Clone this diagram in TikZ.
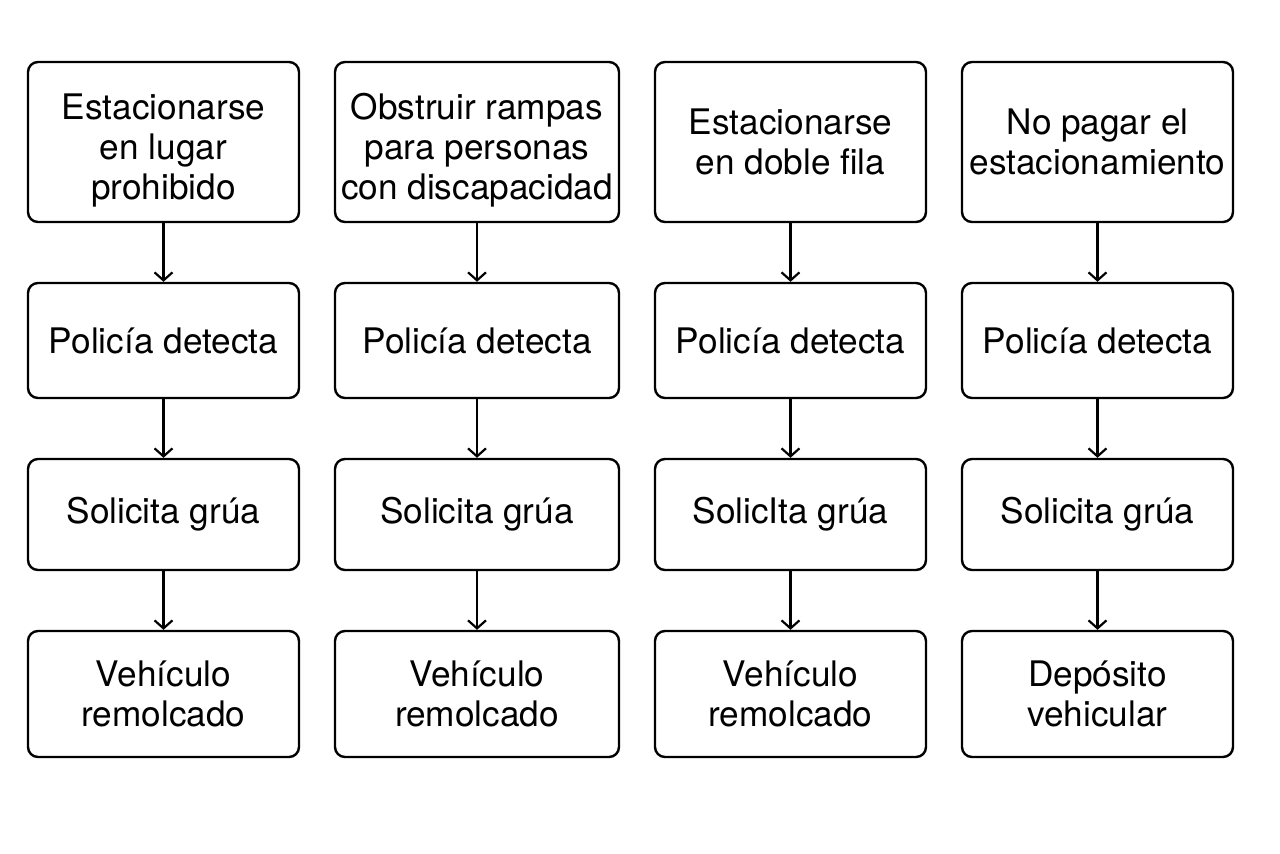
\documentclass[tikz,border=0pt]{standalone}
\usepackage{fontspec}
\setmainfont{TeX Gyre Heros}
\usetikzlibrary{arrows.meta}

\begin{document}
\begin{tikzpicture}[
  x=0.5pt,
  y=-0.5pt,
  thick,
  box/.style={
    draw,
    line width=1.2pt,
    rounded corners=5pt,
    align=center,
    inner sep=0pt,
    minimum width=135.5pt,
    font=\fontsize{17.6}{20}\selectfont
  },
  flow/.style={
    -{Straight Barb[length=4pt,width=9pt]},
    line width=1.1pt
  }
]
  \useasboundingbox (0,0) rectangle (1280,853);
  % row 1: infraccion
  \node[box,minimum height=80pt] (inf1) at (163.5,142)
    {\strut\\[-13pt]Estacionarse\\en lugar\\prohibido};
  \node[box,minimum height=80pt,minimum width=142pt] (inf2) at (477,142)
    {\strut\\[-13pt]Obstruir rampas\\para personas\\con discapacidad};
  \node[box,minimum height=80pt] (inf3) at (790.5,142)
    {Estacionarse\\en doble fila};
  \node[box,minimum height=80pt] (inf4) at (1097.5,142)
    {No pagar el\\estacionamiento};
  % row 2: policia
  \node[box,minimum height=57.5pt] (pol1) at (163.5,340.5) {Policía detecta};
  \node[box,minimum height=57.5pt,minimum width=142pt] (pol2) at (477,340.5) {Policía detecta};
  \node[box,minimum height=57.5pt] (pol3) at (790.5,340.5) {Policía detecta};
  \node[box,minimum height=57.5pt] (pol4) at (1097.5,340.5) {Policía detecta};
  % row 3: grua
  \node[box,minimum height=55.5pt] (gru1) at (163.5,514.5) {Solicita grúa};
  \node[box,minimum height=55.5pt,minimum width=142pt] (gru2) at (477,514.5) {Solicita grúa};
  \node[box,minimum height=55.5pt] (gru3) at (790.5,514.5) {SolicIta grúa};
  \node[box,minimum height=55.5pt] (gru4) at (1097.5,514.5) {Solicita grúa};
  % row 4: resultado
  \node[box,minimum height=63pt] (fin1) at (163.5,694) {Vehículo\\remolcado};
  \node[box,minimum height=63pt,minimum width=142pt] (fin2) at (477,694) {Vehículo\\remolcado};
  \node[box,minimum height=63pt] (fin3) at (790.5,694) {Vehículo\\remolcado};
  \node[box,minimum height=63pt] (fin4) at (1097.5,694) {Depósito\\vehicular};
  % flechas
  \foreach \c in {1,2,3,4} {
    \draw[flow] (inf\c.south) -- (pol\c.north);
    \draw[flow] (pol\c.south) -- (gru\c.north);
    \draw[flow] (gru\c.south) -- (fin\c.north);
  }
\end{tikzpicture}
\end{document}
